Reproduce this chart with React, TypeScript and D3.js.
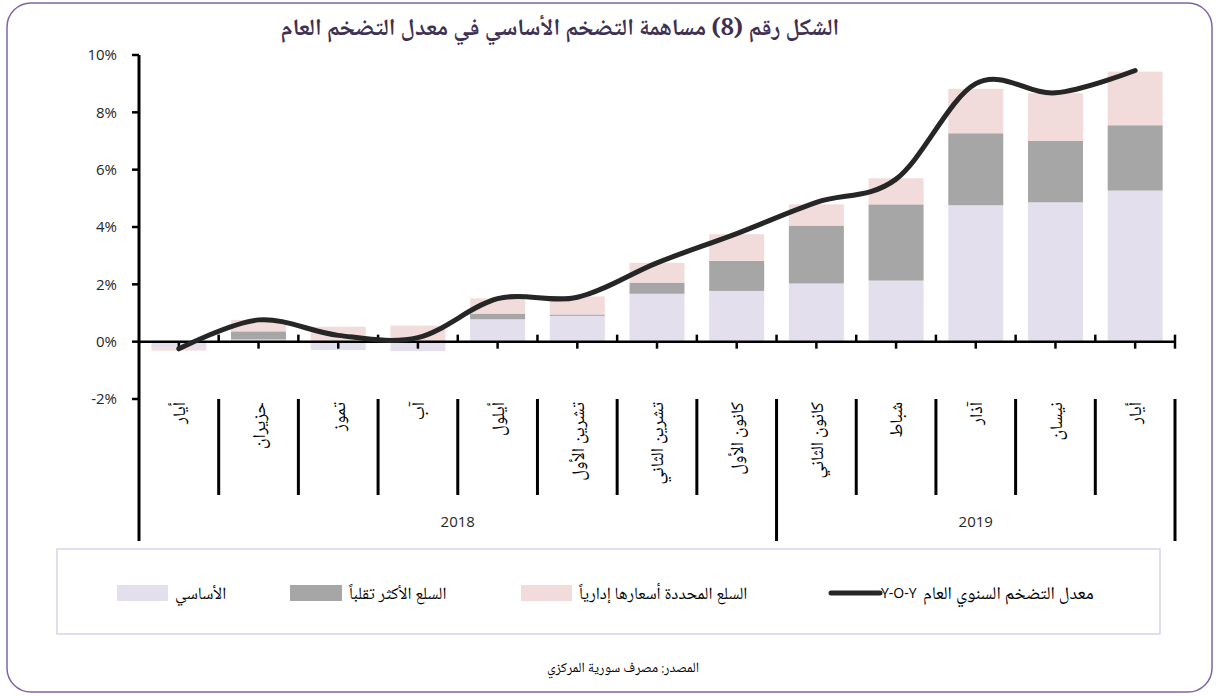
import React from "react";
import * as d3 from "d3";

const WIDTH = 1216;
const HEIGHT = 696;
const PLOT = { left: 139, right: 1175, top: 55, bottom: 399 };

const ARABIC = "'Noto Naskh Arabic', 'DejaVu Sans', serif";
const LATIN = "'Open Sans', 'Noto Sans', sans-serif";

const TITLE = "الشكل رقم (8) مساهمة التضخم الأساسي في معدل التضخم العام";
const SOURCE = "المصدر: مصرف سورية المركزي";

const months = [
  "أيار",
  "حزيران",
  "تموز",
  "آب",
  "أيلول",
  "تشرين الأول",
  "تشرين الثاني",
  "كانون الأول",
  "كانون الثاني",
  "شباط",
  "آذار",
  "نيسان",
  "أيار",
];
const years = [
  { label: "2018", from: 0, to: 8 },
  { label: "2019", from: 8, to: 13 },
];

// contributions, percentage points
const core = [-0.23, 0.08, -0.29, -0.33, 0.78, 0.9, 1.67, 1.77, 2.03, 2.13, 4.76, 4.86, 5.27];
const volatile = [0, 0.28, 0, 0, 0.2, 0.05, 0.39, 1.05, 2.02, 2.66, 2.51, 2.14, 2.28];
const administered = [-0.08, 0.4, 0.52, 0.56, 0.53, 0.63, 0.69, 0.93, 0.74, 0.91, 1.55, 1.67, 1.87];
const yoy = [-0.25, 0.76, 0.22, 0.14, 1.5, 1.55, 2.75, 3.77, 4.86, 5.67, 9.0, 8.68, 9.46];

const yTicks = [-2, 0, 2, 4, 6, 8, 10];

const SERIES = [
  { key: "core", name: "الأساسي", color: "#E4DFEC", values: core },
  { key: "volatile", name: "السلع الأكثر تقلباً", color: "#A6A6A6", values: volatile },
  { key: "admin", name: "السلع المحددة أسعارها إدارياً", color: "#F2DCDB", values: administered },
];
const LINE_NAME = "معدل التضخم السنوي العام";
const LINE_TAG = "Y-O-Y";

const App = () => {
  const idx = months.map((_, i) => i);

  const xScale = d3
    .scaleBand<number>()
    .domain(idx)
    .range([PLOT.left, PLOT.right])
    .paddingInner(0.31)
    .paddingOuter(0.155);
  const step = xScale.step();
  const cx = (i: number) => (xScale(i) as number) + xScale.bandwidth() / 2;

  const yScale = d3.scaleLinear().domain([-2, 10]).range([PLOT.bottom, PLOT.top]);
  const y0 = yScale(0);

  const rows = idx.map((i) => ({
    i,
    core: core[i],
    volatile: volatile[i],
    admin: administered[i],
  }));
  const stacked = d3
    .stack<any>()
    .keys(SERIES.map((s) => s.key))
    .offset(d3.stackOffsetDiverging)(rows);

  const linePath = d3
    .line<number>()
    .x((_, i) => cx(i))
    .y((d) => yScale(d))
    .curve(d3.curveCardinal.tension(0))(yoy);

  const boundary = (i: number) => PLOT.left + i * step;

  const legendY = 593;
  const legendItems = [
    { x: 117, w: 51, color: SERIES[0].color, name: SERIES[0].name },
    { x: 290, w: 52, color: SERIES[1].color, name: SERIES[1].name },
    { x: 521, w: 51, color: SERIES[2].color, name: SERIES[2].name },
  ];

  return (
    <svg
      width={WIDTH}
      height={HEIGHT}
      style={{ position: "absolute", left: 0, top: 0, background: "#fff" }}
    >
      <rect x={7} y={3} width={1205} height={689} rx={24} fill="#fff" stroke="#8064A2" strokeWidth={1.5} />

      <text
        x={560}
        y={35}
        textAnchor="middle"
        fontFamily={ARABIC}
        fontWeight="bold"
        fontSize={23.5}
        fill="#3F3151"
      >
        {TITLE}
      </text>

      {/* stacked bars */}
      {stacked.map((layer, li) => (
        <g key={layer.key} fill={SERIES[li].color}>
          {layer.map((d, j) => {
            const top = yScale(Math.max(d[0], d[1]));
            const bot = yScale(Math.min(d[0], d[1]));
            if (bot - top < 0.1) return null;
            return (
              <rect
                key={j}
                x={xScale(j)}
                width={xScale.bandwidth()}
                y={top}
                height={bot - top}
              />
            );
          })}
        </g>
      ))}

      {/* y axis */}
      <line x1={PLOT.left} x2={PLOT.left} y1={yScale(10)} y2={541} stroke="#000" strokeWidth={3} />
      {yTicks.map((t) => (
        <g key={t}>
          <line x1={PLOT.left - 7} x2={PLOT.left} y1={yScale(t)} y2={yScale(t)} stroke="#000" strokeWidth={2.5} />
          <text
            x={117}
            y={yScale(t)}
            dy="0.35em"
            textAnchor="end"
            fontFamily={LATIN}
            fontSize={15}
            fill="#262626"
          >
            {t + "%"}
          </text>
        </g>
      ))}

      {/* category axis at zero */}
      <line x1={PLOT.left} x2={PLOT.right + 1} y1={y0} y2={y0} stroke="#000" strokeWidth={2.5} />
      {idx.map((i) => (
        <g key={"t" + i}>
          <line x1={boundary(i + 1)} x2={boundary(i + 1)} y1={y0} y2={y0 - 7} stroke="#000" strokeWidth={2.5} />
          <line x1={cx(i)} x2={cx(i)} y1={y0} y2={y0 + 7} stroke="#000" strokeWidth={2.5} />
        </g>
      ))}
      <line x1={PLOT.right} x2={PLOT.right} y1={y0} y2={y0 + 7} stroke="#000" strokeWidth={2.5} />

      {/* month labels and separators */}
      {idx.map((i) => (
        <g key={"m" + i}>
          {i > 0 && (
            <line
              x1={boundary(i)}
              x2={boundary(i)}
              y1={PLOT.bottom}
              y2={years.some((yr) => yr.from === i) ? 541 : 495}
              stroke="#000"
              strokeWidth={3}
            />
          )}
          <text
            transform={`translate(${cx(i)},402) rotate(-90)`}
            textAnchor="end"
            dy="0.35em"
            fontFamily={ARABIC}
            fontSize={18}
            fill="#000"
          >
            {months[i]}
          </text>
        </g>
      ))}
      <line x1={PLOT.right} x2={PLOT.right} y1={PLOT.bottom} y2={541} stroke="#000" strokeWidth={3} />

      {years.map((yr) => (
        <text
          key={yr.label}
          x={(boundary(yr.from) + boundary(yr.to)) / 2}
          y={527}
          textAnchor="middle"
          fontFamily={LATIN}
          fontSize={15}
          fill="#262626"
        >
          {yr.label}
        </text>
      ))}

      {/* YoY line */}
      <path d={linePath || ""} fill="none" stroke="#262626" strokeWidth={5} strokeLinecap="round" />

      {/* legend */}
      <rect x={57} y={549} width={1103} height={85} fill="none" stroke="#D9D2E9" strokeWidth={1.5} />
      {legendItems.map((it) => (
        <g key={it.name}>
          <rect x={it.x} y={legendY - 8} width={it.w} height={16} fill={it.color} />
          <text
            x={it.x + it.w + 7}
            y={legendY}
            dy="0.35em"
            direction="rtl"
            textAnchor="end"
            fontFamily={ARABIC}
            fontSize={17}
            fill="#000"
          >
            {it.name}
          </text>
        </g>
      ))}
      <line x1={831} x2={880} y1={legendY} y2={legendY} stroke="#262626" strokeWidth={5} strokeLinecap="round" />
      <text x={881} y={legendY} dy="0.35em" fontFamily={LATIN} fontSize={14} fill="#000">
        {LINE_TAG}
      </text>
      <text
        x={923}
        y={legendY}
        dy="0.35em"
        direction="rtl"
        textAnchor="end"
        fontFamily={ARABIC}
        fontSize={18}
        fill="#000"
      >
        {LINE_NAME}
      </text>

      <text x={623} y={672} textAnchor="middle" fontFamily={ARABIC} fontSize={14} fill="#000">
        {SOURCE}
      </text>
    </svg>
  );
};

export default App;
